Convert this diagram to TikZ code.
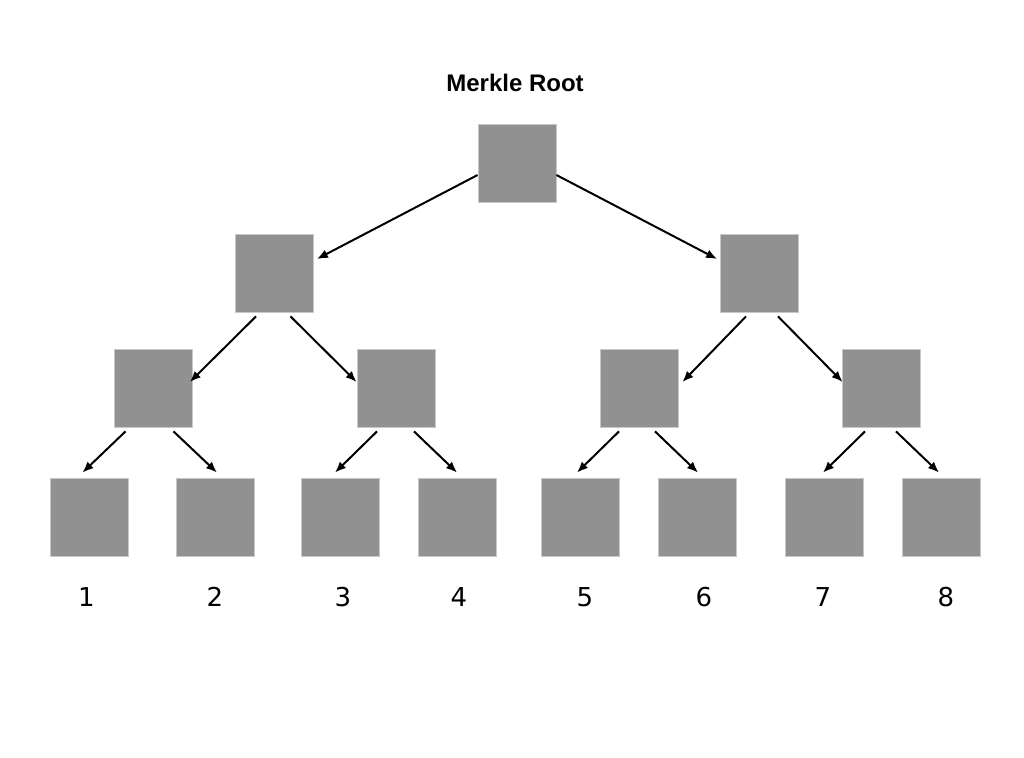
\documentclass[tikz,border=0pt]{standalone}
\usepackage{fontspec}
\setmainfont{Liberation Sans}
\newfontfamily\digitfont{DejaVu Sans}
\usetikzlibrary{arrows.meta}
\definecolor{boxgray}{RGB}{145,145,145}
\definecolor{edgegray}{RGB}{200,200,200}
\begin{document}
\begin{tikzpicture}[x=1pt,y=-1pt,
  hashbox/.style={draw=edgegray,line width=0.8pt,fill=boxgray,minimum size=78pt,inner sep=0pt},
  link/.style={line width=2pt,-{Latex[length=11pt,width=9pt]}},
  num/.style={font=\digitfont\fontsize{26}{30}\selectfont,inner sep=0pt},
  title/.style={font=\bfseries\fontsize{24}{28}\selectfont,inner sep=0pt}]
\useasboundingbox (0,0) rectangle (1024,757);
\fill[white] (0,0) rectangle (1024,757);
\node[title] (t) at (515,83) {Merkle Root};
\node[hashbox] (root) at (517,163) {};
\node[hashbox] (l) at (274.5,273) {};
\node[hashbox] (r) at (759.5,273) {};
\node[hashbox] (ll) at (153.5,388) {};
\node[hashbox] (lr) at (396,388) {};
\node[hashbox] (rl) at (639,388) {};
\node[hashbox] (rr) at (881,388) {};
\node[hashbox] (a1) at (89.5,517) {};
\node[hashbox] (a2) at (215,517) {};
\node[hashbox] (a3) at (340.5,517) {};
\node[hashbox] (a4) at (457,517) {};
\node[hashbox] (a5) at (580,517) {};
\node[hashbox] (a6) at (697,517) {};
\node[hashbox] (a7) at (824,517) {};
\node[hashbox] (a8) at (941,517) {};
\node[num] (n1) at (86.5,597) {1};
\node[num] (n2) at (215,597) {2};
\node[num] (n3) at (343,597) {3};
\node[num] (n4) at (459,597) {4};
\node[num] (n5) at (585,597) {5};
\node[num] (n6) at (704,597) {6};
\node[num] (n7) at (823,597) {7};
\node[num] (n8) at (946,597) {8};
% root
\draw[link] ([yshift=-12pt]root.west) -- ([xshift=3pt,yshift=14pt]l.east);
\draw[link] ([yshift=-12pt]root.east) -- ([xshift=-3pt,yshift=14pt]r.west);
% level 1
\draw[link] ([xshift=-18.5pt,yshift=-4pt]l.south) -- ([xshift=-3pt,yshift=6pt]ll.east);
\draw[link] ([xshift=16pt,yshift=-4pt]l.south) -- ([xshift=0pt,yshift=6pt]lr.west);
\draw[link] ([xshift=-13.5pt,yshift=-4pt]r.south) -- ([xshift=4pt,yshift=6pt]rl.east);
\draw[link] ([xshift=18.5pt,yshift=-4pt]r.south) -- ([xshift=1pt,yshift=6pt]rr.west);
% level 2
\draw[link] ([xshift=-28pt,yshift=-4pt]ll.south) -- ([xshift=-7pt,yshift=5pt]a1.north);
\draw[link] ([xshift=20pt,yshift=-4pt]ll.south) -- ([xshift=2pt,yshift=5pt]a2.north);
\draw[link] ([xshift=-19pt,yshift=-4pt]lr.south) -- ([xshift=-5.5pt,yshift=5pt]a3.north);
\draw[link] ([xshift=18pt,yshift=-4pt]lr.south) -- ([xshift=0pt,yshift=5pt]a4.north);
\draw[link] ([xshift=-20pt,yshift=-4pt]rl.south) -- ([xshift=-3pt,yshift=5pt]a5.north);
\draw[link] ([xshift=16pt,yshift=-4pt]rl.south) -- ([xshift=1pt,yshift=5pt]a6.north);
\draw[link] ([xshift=-16pt,yshift=-4pt]rr.south) -- ([xshift=-1pt,yshift=5pt]a7.north);
\draw[link] ([xshift=15pt,yshift=-4pt]rr.south) -- ([xshift=-2pt,yshift=5pt]a8.north);
\end{tikzpicture}
\end{document}
